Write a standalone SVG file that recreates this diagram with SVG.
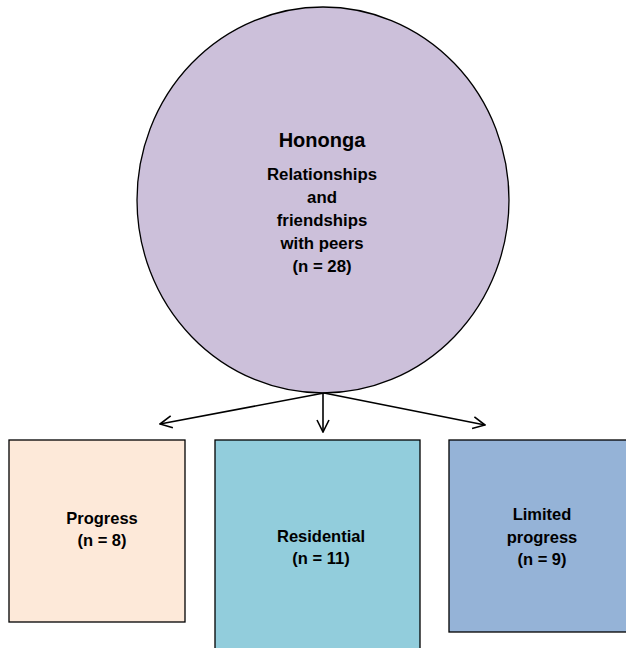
<svg xmlns="http://www.w3.org/2000/svg" width="626" height="648" viewBox="0 0 626 648">
  <style>
    .shape { stroke: #000; stroke-width: 1.3; }
    .label { font-family: "Liberation Sans", Arial, sans-serif; font-weight: bold; fill: #000; text-anchor: middle; }
    .title { font-size: 20px; }
    .body { font-size: 16.8px; }
    .box { font-size: 16.5px; }
    .conn { stroke: #000; stroke-width: 1.6; fill: none; }
  </style>
  <defs>
    <marker id="open-arrow" viewBox="0 0 14 14" refX="13" refY="7" markerWidth="14" markerHeight="14" markerUnits="userSpaceOnUse" orient="auto">
      <path d="M1,1 L13,7 L1,13" fill="none" stroke="#000" stroke-width="1.6"/>
    </marker>
  </defs>

  <rect width="626" height="648" fill="#fff"/>

  <g id="hononga">
    <ellipse class="shape" cx="323" cy="200" rx="186" ry="193" fill="#ccc0da"/>
    <text class="label title" x="322" y="147">Hononga</text>
    <text class="label body" x="322" y="180">Relationships</text>
    <text class="label body" x="322" y="203">and</text>
    <text class="label body" x="322" y="226">friendships</text>
    <text class="label body" x="322" y="249">with peers</text>
    <text class="label body" x="322" y="272">(n = 28)</text>
  </g>

  <g id="connectors">
    <line class="conn" x1="324" y1="393" x2="160" y2="424" marker-end="url(#open-arrow)"/>
    <line class="conn" x1="323" y1="393" x2="323" y2="432" marker-end="url(#open-arrow)"/>
    <line class="conn" x1="324" y1="393" x2="485" y2="425" marker-end="url(#open-arrow)"/>
  </g>

  <g id="progress">
    <rect class="shape" x="9" y="440" width="176" height="182" fill="#fde9d9"/>
    <text class="label box" x="102" y="524">Progress</text>
    <text class="label box" x="102" y="546">(n = 8)</text>
  </g>

  <g id="residential">
    <rect class="shape" x="215" y="440" width="205" height="215" fill="#92cddc"/>
    <text class="label box" x="321" y="542">Residential</text>
    <text class="label box" x="321" y="564">(n = 11)</text>
  </g>

  <g id="limited-progress">
    <rect class="shape" x="449" y="440" width="190" height="192" fill="#95b3d7"/>
    <text class="label box" x="542" y="520">Limited</text>
    <text class="label box" x="542" y="543">progress</text>
    <text class="label box" x="542" y="565">(n = 9)</text>
  </g>
</svg>
